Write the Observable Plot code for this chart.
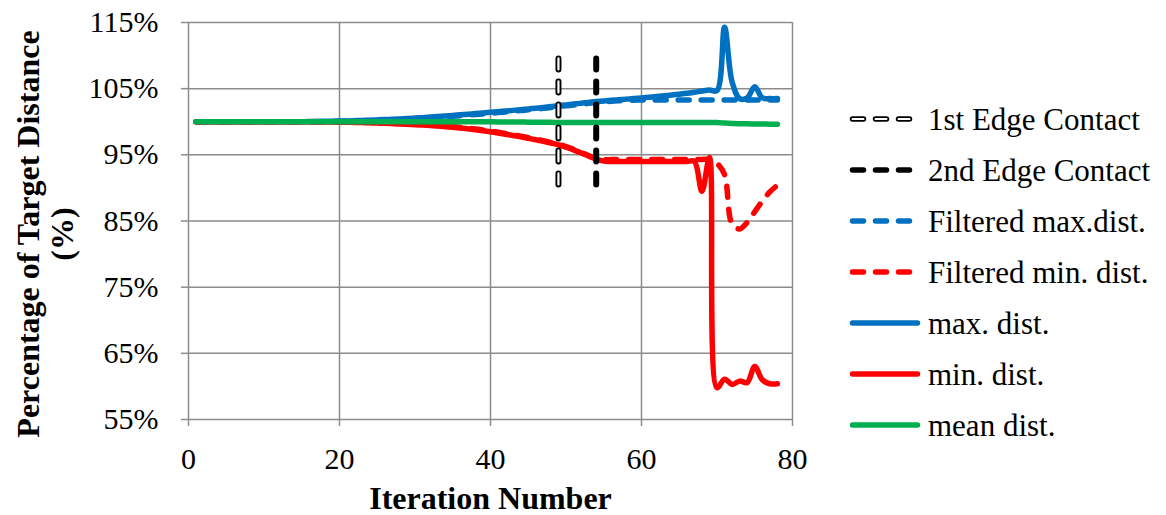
<!DOCTYPE html>
<html><head><meta charset="utf-8">
<script src="https://cdn.jsdelivr.net/npm/d3@7"></script>
<script src="https://cdn.jsdelivr.net/npm/@observablehq/plot@0.6"></script>
<style>body{margin:0;background:#fff;}</style>
</head><body><div id="chart"></div>
<script>
const iterations = d3.range(1, 79);
const xTicks = [0, 20, 40, 60, 80];
const yTicks = [55, 65, 75, 85, 95, 105, 115];

const maxDist = [
  100,100,100,100,100,100,100,100,100,100,100,100,100,100,100,
  100.02,100.04,100.06,100.08,100.1,100.13,100.16,100.2,100.24,100.28,
  100.33,100.38,100.43,100.49,100.55,100.62,100.7,100.78,100.87,100.96,
  101.05,101.14,101.23,101.32,101.42,101.52,101.62,101.72,101.83,101.94,
  102.05,102.17,102.3,102.43,102.55,102.67,102.8,102.93,103.05,103.15,
  103.25,103.33,103.42,103.5,103.6,103.7,103.8,103.92,104.04,104.17,
  104.3,104.45,104.65,104.8,104.7,114.3,106.0,103.5,103.6,105.3,
  103.6,103.5,103.5
];
const filtMax = [
  100,100,100,100,100,100,100,100,100,100,100,100,100,100,100,
  100,100.02,100.04,100.06,100.08,100.1,100.12,100.15,100.18,100.21,
  100.25,100.29,100.33,100.38,100.43,100.49,100.56,100.64,100.73,100.82,
  100.91,101.0,101.09,101.18,101.28,101.38,101.48,101.58,101.69,101.8,
  101.91,102.03,102.15,102.28,102.4,102.52,102.65,102.78,102.9,103.0,
  103.1,103.17,103.22,103.26,103.3,103.3,103.3,103.3,103.3,103.3,
  103.3,103.3,103.3,103.3,103.3,103.3,103.3,103.3,103.3,103.3,
  103.3,103.3,103.3
];
const minDist = [
  100,100,100,100,100,100,100,100,100,100,100,100,100,100,100,
  99.99,99.98,99.97,99.96,99.94,99.92,99.9,99.87,99.84,99.8,
  99.76,99.72,99.67,99.62,99.56,99.5,99.43,99.35,99.26,99.16,
  99.05,98.93,98.8,98.65,98.48,98.3,98.11,97.92,97.72,97.5,
  97.28,97.04,96.78,96.5,96.15,95.75,95.28,94.8,94.35,94.05,
  94.0,94.0,94.0,94.0,94.0,94.0,94.0,94.0,94.0,94.0,
  94.0,94.0,89.5,94.6,59.8,61.1,60.3,60.8,60.6,63.0,
  61.0,60.4,60.4
];
const filtMin = [
  100,100,100,100,100,100,100,100,100,100,100,100,100,100,100,
  100,99.99,99.98,99.97,99.96,99.95,99.93,99.91,99.88,99.85,
  99.82,99.78,99.74,99.69,99.64,99.58,99.52,99.44,99.36,99.26,
  99.15,99.03,98.9,98.75,98.58,98.4,98.21,98.02,97.82,97.6,
  97.38,97.14,96.88,96.6,96.25,95.85,95.38,94.9,94.45,94.25,
  94.3,94.3,94.3,94.3,94.3,94.3,94.3,94.3,94.3,94.3,
  94.3,94.3,94.3,94.3,93.7,92.0,84.5,83.8,84.8,86.4,
  88.0,89.4,90.4
];
const meanDist = [
  100,100,100,100,100,100,100,100,100,100,100,100,100,100,100,100,100,100,100,100,
  100,100,100,100,100,100,100,100,100,100,100,100,100,100,100,100,100,100,100,100,
  99.98,99.97,99.96,99.95,99.94,99.93,99.92,99.91,99.9,99.9,
  99.88,99.88,99.88,99.88,99.88,99.88,99.88,99.88,99.88,99.88,
  99.87,99.87,99.87,99.87,99.87,99.87,99.87,99.87,99.87,99.87,
  99.8,99.75,99.7,99.68,99.66,99.65,99.64,99.63
];
const edgeContacts = [49, 54];
const edgeLow = 90, edgeHigh = 109.5;

const legendLabels = ["1st Edge Contact", "2nd Edge Contact", "Filtered max.dist.", "Filtered min. dist.", "max. dist.", "min. dist.", "mean dist."];
const legendColors = ["black", "black", "#0070C0", "#FF0000", "#0070C0", "#FF0000", "#00B050"];
const legendDashed = [true, true, true, true, false, false, false];
const legendHollow = [true, false, false, false, false, false, false];

const BLUE = "#0070C0", RED = "#FF0000", GREEN = "#00B050";
const DASH = "11,12";
const FONT = "'Liberation Serif', 'Times New Roman', serif";
const rows = s => iterations.map((x, i) => ({x, y: s[i]}));
const lineOpts = (stroke, dashed) => ({x: "x", y: "y", stroke, strokeWidth: 5.5, strokeLinecap: "round", strokeLinejoin: "round", curve: "catmull-rom", strokeDasharray: dashed ? DASH : null});

const plot = Plot.plot({
  width: 1166, height: 515,
  marginLeft: 188, marginRight: 374, marginTop: 22, marginBottom: 96,
  style: {fontFamily: FONT, fontSize: "30px", background: "white", overflow: "visible"},
  x: {domain: [0, 80]},
  y: {domain: [55, 115]},
  marks: [
    Plot.gridY(yTicks, {stroke: "#8c8c8c", strokeOpacity: 1, strokeWidth: 1.5}),
    Plot.gridX(xTicks, {stroke: "#8c8c8c", strokeOpacity: 1, strokeWidth: 1.5}),
    Plot.axisY(yTicks, {tickSize: 7, tickPadding: 23, tickFormat: d => d + "%", stroke: "#8c8c8c", strokeWidth: 1.5, fill: "black", label: null, fontSize: 30}),
    Plot.axisX(xTicks, {tickSize: 7, tickPadding: 21, stroke: "#8c8c8c", strokeWidth: 1.5, fill: "black", label: null, fontSize: 30}),
    Plot.line(rows(filtMax), lineOpts(BLUE, true)),
    Plot.line(rows(filtMin), lineOpts(RED, true)),
    Plot.line(rows(maxDist), lineOpts(BLUE, false)),
    Plot.line(rows(minDist), lineOpts(RED, false)),
    Plot.line(rows(meanDist), lineOpts(GREEN, false)),
    Plot.ruleX(edgeContacts, {x: d => d, y1: edgeHigh, y2: edgeLow, stroke: "black", strokeWidth: 6, strokeDasharray: DASH, strokeLinecap: "round"}),
    Plot.ruleX([edgeContacts[0]], {x: d => d, y1: edgeHigh, y2: edgeLow, stroke: "white", strokeWidth: 2.2, strokeDasharray: DASH, strokeLinecap: "round"}),
    Plot.text(["Percentage of Target Distance\n(%)"], {frameAnchor: "left", dx: -143, dy: 13, rotate: -90, fontWeight: "bold", fontSize: 32, lineHeight: 1.06, textAnchor: "middle", lineAnchor: "middle", fill: "black"}),
    Plot.text(["Iteration Number"], {frameAnchor: "bottom", dy: 79, fontWeight: "bold", fontSize: 32, textAnchor: "middle", lineAnchor: "middle", fill: "black"})
  ]
});
document.getElementById("chart").appendChild(plot);

// Legend
const svg = d3.select(plot);
const lg = svg.append("g").attr("font-family", FONT).attr("font-size", 31).attr("text-anchor", "start");
legendLabels.forEach((label, i) => {
  const cy = 119 + i * 51;
  const g = lg.append("g");
  const addLine = (stroke, w) => g.append("line")
    .attr("x1", 852.5).attr("x2", legendDashed[i] ? 912 : 917.5)
    .attr("y1", cy).attr("y2", cy)
    .attr("stroke", stroke).attr("stroke-width", w).attr("stroke-linecap", "round")
    .attr("stroke-dasharray", legendDashed[i] ? DASH : null);
  addLine(legendColors[i], 5.5);
  if (legendHollow[i]) addLine("white", 2);
  g.append("text").attr("x", 928).attr("y", cy).attr("dy", "0.35em").attr("fill", "black").attr("text-anchor", "start").text(label);
});
</script>
</body></html>
